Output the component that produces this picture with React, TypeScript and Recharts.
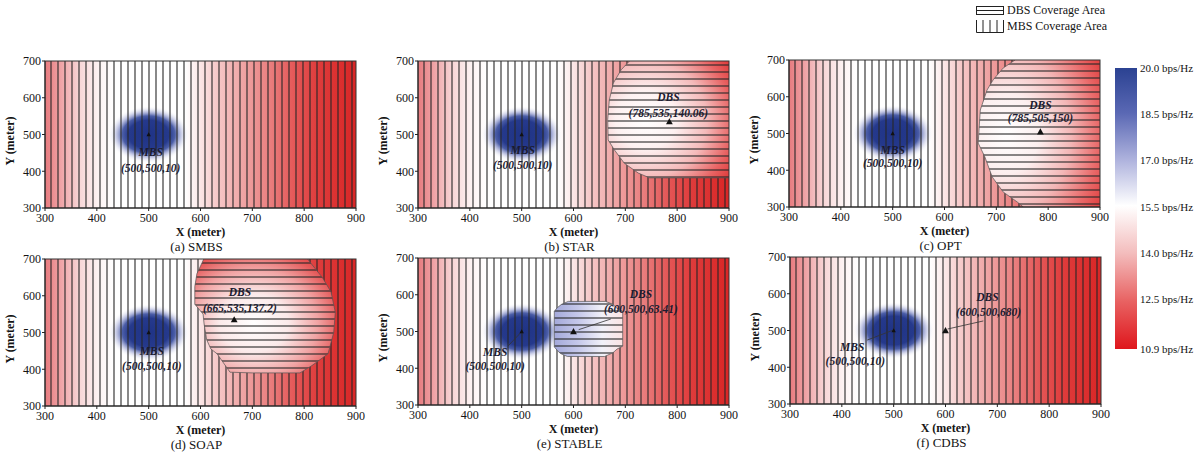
import React from "react";
import {
  ComposedChart,
  XAxis,
  YAxis,
  ReferenceArea,
  ReferenceLine,
  ReferenceDot,
  Scatter,
} from "recharts";

const X_TICKS = [300, 400, 500, 600, 700, 800, 900];
const Y_TICKS = [300, 400, 500, 600, 700];
const RATE_TICKS = [20.0, 18.5, 17.0, 15.5, 14.0, 12.5, 10.9];

const PANEL_KEYS = ["a", "b", "c", "d", "e", "f"];
const PANEL_TITLES = ["(a) SMBS", "(b) STAR", "(c) OPT", "(d) SOAP", "(e) STABLE", "(f) CDBS"];

// station positions (x, y, height) as printed in each panel
const MBS_SITES = [
  { x: 500, y: 500, h: 10 },
  { x: 500, y: 500, h: 10 },
  { x: 500, y: 500, h: 10 },
  { x: 500, y: 500, h: 10 },
  { x: 500, y: 500, h: 10 },
  { x: 500, y: 500, h: 10 },
];
const DBS_SITES = [
  null,
  { x: 785, y: 535, h: 140.06 },
  { x: 785, y: 505, h: 150 },
  { x: 665, y: 535, h: 137.2 },
  { x: 600, y: 500, h: 63.41 },
  { x: 600, y: 500, h: 680 },
];

// DBS coverage boundaries (meters)
const COVER_B = [
  [712, 712], [708, 700], [692, 676], [677, 640], [669, 594], [666, 540], [667, 485],
  [679, 458], [698, 422], [725, 395], [747, 382], [912, 382], [912, 712],
];
const COVER_C = [
  [740, 712], [736, 700], [713, 678], [694, 646], [682, 618], [669, 564], [665, 474],
  [678, 436], [692, 382], [713, 341], [740, 314], [752, 300], [756, 288], [912, 288], [912, 712],
];
const COVER_D = [
  [610, 712], [603, 690], [593, 660], [589, 625], [589, 577], [605, 550], [607, 523],
  [612, 480], [620, 455], [632, 442], [657, 392], [700, 390], [792, 390], [815, 410],
  [846, 442], [857, 500], [860, 555], [852, 610], [835, 650], [812, 690], [800, 712],
];
const COVER_E = [
  [590, 582], [662, 582], [676, 574], [684, 563], [695, 555], [695, 460], [684, 452],
  [676, 442], [660, 432], [588, 432], [575, 440], [569, 448], [563, 458], [563, 555],
  [569, 565], [577, 574],
];
const DBS_COVERAGE = [null, COVER_B, COVER_C, COVER_D, COVER_E, null];

// layout
const SERIF = "'Liberation Serif', 'DejaVu Serif', serif";
const PLOT_W = 311;
const PLOT_H = 147;
const RIGHT_PAD = 14;
const CHART_W = 45 + PLOT_W + RIGHT_PAD;
const CHART_H = 10 + PLOT_H + 30;
const PANEL_POS = [
  { left: 45, top: 61 },
  { left: 418, top: 61 },
  { left: 789, top: 60 },
  { left: 45, top: 259 },
  { left: 418, top: 258 },
  { left: 790, top: 257 },
];
const BLOB_R = 78;

const LABEL_LAYOUT: any[] = [
  { mbsName: [504, 452], mbsCoord: [504, 410] },
  { mbsName: [502, 458], mbsCoord: [502, 417], dbsName: [783, 602], dbsCoord: [783, 558] },
  { mbsName: [500, 455], mbsCoord: [500, 420], dbsName: [785, 577], dbsCoord: [785, 542] },
  { mbsName: [506, 450], mbsCoord: [506, 410], dbsName: [676, 611], dbsCoord: [676, 568] },
  {
    mbsName: [449, 445], mbsCoord: [449, 405], dbsName: [730, 601], dbsCoord: [730, 560],
    mbsLeader: [[474, 461], [501, 501]], dbsLeader: [[672, 534], [610, 505]],
  },
  {
    mbsName: [420, 455], mbsCoord: [426, 417], dbsName: [681, 591], dbsCoord: [683, 550],
    mbsLeader: [[449, 474], [499, 501]], dbsLeader: [[673, 526], [604, 504]],
  },
];

// fill of the DBS coverage region, per panel
const DBS_FILLS: any[] = [
  null,
  { type: "radial", cx: 0.3, cy: 0.52, r: 0.8, stops: [[0, "#ffffff"], [0.3, "#fdf1f1"], [0.6, "#f4baba"], [0.85, "#e86464"], [1, "#e03c3c"]] },
  { type: "radial", cx: 0.22, cy: 0.5, r: 0.85, stops: [[0, "#ffffff"], [0.3, "#fcefef"], [0.6, "#f3b6b6"], [0.85, "#e96a6a"], [1, "#e24444"]] },
  { type: "radial", cx: 0.42, cy: 0.58, r: 0.7, stops: [[0, "#ffffff"], [0.35, "#fbeaea"], [0.65, "#f1a4a4"], [0.88, "#e55a5a"], [1, "#e04040"]] },
  { type: "linear", stops: [[0, "#a4a9db"], [0.35, "#c5c8ea"], [0.7, "#f1f1f9"], [1, "#fbe4e4"]] },
  null,
];

const BG_STOPS: [number, string][] = [
  [0, "#e77a7e"], [0.05, "#efa2a5"], [0.11, "#f7d5d6"], [0.17, "#fdf2f2"], [0.22, "#ffffff"],
  [0.45, "#ffffff"], [0.5, "#fbe6e6"], [0.55, "#f6caca"], [0.63, "#f0a7a7"], [0.72, "#ea8080"],
  [0.8, "#e45858"], [0.88, "#df3b3b"], [1, "#d92626"],
];

const RATE_STOPS: [number, string][] = [
  [0, "#2b4292"], [0.16, "#5a68b4"], [0.33, "#b0b4de"], [0.49, "#ffffff"],
  [0.66, "#f3bcbc"], [0.83, "#e86262"], [1, "#df161c"],
];

const tickStyle = { fill: "#141414", fontSize: 12, fontFamily: SERIF };
const labelStyle: any = {
  fill: "#1b1b30",
  fontSize: 11.5,
  fontFamily: SERIF,
  fontStyle: "italic",
  fontWeight: "bold",
  textAnchor: "middle",
  dominantBaseline: "central",
};

function polyPath(pts: number[][], x: number, y: number, w: number, h: number) {
  const xs = pts.map((p) => p[0]);
  const ys = pts.map((p) => p[1]);
  const minX = Math.min(...xs), maxX = Math.max(...xs);
  const minY = Math.min(...ys), maxY = Math.max(...ys);
  return (
    pts
      .map(([mx, my], i) => {
        const px = x + ((mx - minX) / (maxX - minX)) * w;
        const py = y + ((maxY - my) / (maxY - minY)) * h;
        return `${i ? "L" : "M"}${px.toFixed(1)},${py.toFixed(1)}`;
      })
      .join("") + "Z"
  );
}

function Triangle(props: any) {
  const { cx, cy, payload } = props;
  const s = payload && payload.kind === "dbs" ? 3.4 : 2.2;
  return (
    <polygon
      points={`${cx},${cy - s} ${cx - s},${cy + s * 0.8} ${cx + s},${cy + s * 0.8}`}
      fill="#111"
    />
  );
}

function Panel({ idx }: { idx: number }) {
  const id = PANEL_KEYS[idx];
  const pos = PANEL_POS[idx];
  const mbs = MBS_SITES[idx];
  const dbs = DBS_SITES[idx];
  const cover = DBS_COVERAGE[idx];
  const lab = LABEL_LAYOUT[idx];
  const dfill = DBS_FILLS[idx];
  const stations: any[] = [{ x: mbs.x, y: mbs.y, kind: "mbs" }];
  if (dbs) stations.push({ x: dbs.x, y: dbs.y, kind: "dbs" });

  const cxs = cover ? cover.map((p) => p[0]) : [];
  const cys = cover ? cover.map((p) => p[1]) : [];

  const textDot = (pt: number[], text: string, key: string) => (
    <ReferenceDot
      key={key}
      x={pt[0]}
      y={pt[1]}
      r={0}
      ifOverflow="visible"
      shape={(p: any) => (
        <text x={p.cx} y={p.cy} {...labelStyle}>
          {text}
        </text>
      )}
    />
  );

  return (
    <div
      style={{
        position: "absolute",
        left: pos.left - 45,
        top: pos.top - 10,
        width: CHART_W,
        height: CHART_H + 20,
      }}
    >
      <ComposedChart width={CHART_W} height={CHART_H} margin={{ top: 10, right: RIGHT_PAD, bottom: 0, left: 13 }}>
        <defs>
          <clipPath id={`clip-${id}`}>
            <rect x={45} y={10} width={PLOT_W} height={PLOT_H} />
          </clipPath>
          <linearGradient id={`bg-${id}`} x1="0" y1="0" x2="1" y2="0">
            {BG_STOPS.map(([o, c]) => (
              <stop key={o} offset={o} stopColor={c} />
            ))}
          </linearGradient>
          <radialGradient id={`blob-${id}`} cx="0.5" cy="0.5" r="0.5">
            <stop offset={0} stopColor="#1f3386" />
            <stop offset={0.5} stopColor="#25398c" />
            <stop offset={0.65} stopColor="#3c50a0" stopOpacity={0.92} />
            <stop offset={0.8} stopColor="#8a93cc" stopOpacity={0.5} />
            <stop offset={1} stopColor="#ffffff" stopOpacity={0} />
          </radialGradient>
          {dfill && dfill.type === "radial" && (
            <radialGradient id={`dfill-${id}`} cx={dfill.cx} cy={dfill.cy} r={dfill.r}>
              {dfill.stops.map(([o, c]: any) => (
                <stop key={o} offset={o} stopColor={c} />
              ))}
            </radialGradient>
          )}
          {dfill && dfill.type === "linear" && (
            <linearGradient id={`dfill-${id}`} x1="0" y1="0" x2="1" y2="0">
              {dfill.stops.map(([o, c]: any) => (
                <stop key={o} offset={o} stopColor={c} />
              ))}
            </linearGradient>
          )}
          <pattern id={`vh-${id}`} patternUnits="userSpaceOnUse" x={45} y={0} width={7} height={20}>
            <line x1={6} x2={6} y1={0} y2={20} stroke="#262626" strokeWidth={1.1} />
          </pattern>
          <pattern id={`hh-${id}`} patternUnits="userSpaceOnUse" x={0} y={10} width={20} height={7}>
            <line x1={0} x2={20} y1={4} y2={4} stroke="#262626" strokeWidth={1.1} />
          </pattern>
        </defs>

        <XAxis
          type="number"
          dataKey="x"
          domain={[300, 900]}
          ticks={X_TICKS}
          interval={0}
          allowDataOverflow
          height={30}
          tickSize={3}
          tickMargin={2}
          axisLine={{ stroke: "#222" }}
          tickLine={{ stroke: "#222" }}
          tick={tickStyle}
        />
        <YAxis
          type="number"
          dataKey="y"
          domain={[300, 700]}
          ticks={Y_TICKS}
          interval={0}
          allowDataOverflow
          width={32}
          tickSize={3}
          tickMargin={1}
          axisLine={{ stroke: "#222" }}
          tickLine={{ stroke: "#222" }}
          tick={tickStyle}
        />

        <ReferenceArea
          x1={300}
          x2={900}
          y1={300}
          y2={700}
          ifOverflow="visible"
          shape={(p: any) => (
            <rect x={p.x} y={p.y} width={p.width} height={p.height} fill={`url(#bg-${id})`} />
          )}
        />
        <ReferenceArea
          x1={mbs.x - BLOB_R}
          x2={mbs.x + BLOB_R}
          y1={mbs.y - BLOB_R}
          y2={mbs.y + BLOB_R}
          ifOverflow="visible"
          shape={(p: any) => (
            <ellipse
              cx={p.x + p.width / 2}
              cy={p.y + p.height / 2}
              rx={p.width / 2}
              ry={p.height / 2}
              fill={`url(#blob-${id})`}
              clipPath={`url(#clip-${id})`}
            />
          )}
        />
        <ReferenceArea
          x1={300}
          x2={900}
          y1={300}
          y2={700}
          ifOverflow="visible"
          shape={(p: any) => (
            <rect x={p.x} y={p.y} width={p.width} height={p.height} fill={`url(#vh-${id})`} />
          )}
        />
        {cover && (
          <ReferenceArea
            x1={Math.min(...cxs)}
            x2={Math.max(...cxs)}
            y1={Math.min(...cys)}
            y2={Math.max(...cys)}
            ifOverflow="visible"
            shape={(p: any) => {
              const d = polyPath(cover, p.x, p.y, p.width, p.height);
              return (
                <g clipPath={`url(#clip-${id})`}>
                  <path d={d} fill={`url(#dfill-${id})`} />
                  <path d={d} fill={`url(#hh-${id})`} stroke="#555" strokeWidth={0.7} />
                </g>
              );
            }}
          />
        )}
        <ReferenceArea
          x1={300}
          x2={900}
          y1={300}
          y2={700}
          ifOverflow="visible"
          shape={(p: any) => (
            <rect x={p.x} y={p.y} width={p.width} height={p.height} fill="none" stroke="#333" strokeWidth={1} />
          )}
        />

        {lab.mbsLeader && (
          <ReferenceLine
            segment={[
              { x: lab.mbsLeader[0][0], y: lab.mbsLeader[0][1] },
              { x: lab.mbsLeader[1][0], y: lab.mbsLeader[1][1] },
            ]}
            stroke="#333"
            strokeWidth={0.8}
            ifOverflow="visible"
          />
        )}
        {lab.dbsLeader && (
          <ReferenceLine
            segment={[
              { x: lab.dbsLeader[0][0], y: lab.dbsLeader[0][1] },
              { x: lab.dbsLeader[1][0], y: lab.dbsLeader[1][1] },
            ]}
            stroke="#333"
            strokeWidth={0.8}
            ifOverflow="visible"
          />
        )}

        {textDot(lab.mbsName, "MBS", "mn")}
        {textDot(lab.mbsCoord, `(${mbs.x},${mbs.y},${mbs.h})`, "mc")}
        {dbs && textDot(lab.dbsName, "DBS", "dn")}
        {dbs && textDot(lab.dbsCoord, `(${dbs.x},${dbs.y},${dbs.h})`, "dc")}

        <Scatter data={stations} dataKey="y" shape={Triangle} isAnimationActive={false} />
      </ComposedChart>

      <div
        style={{
          position: "absolute",
          left: 10,
          top: 10 + PLOT_H / 2 + 6,
          transform: "translate(-50%, -50%) rotate(-90deg)",
          fontFamily: SERIF,
          fontWeight: "bold",
          fontSize: 12,
          color: "#141414",
          whiteSpace: "nowrap",
        }}
      >
        Y (meter)
      </div>
      <div
        style={{
          position: "absolute",
          left: 45 + PLOT_W / 2,
          top: 10 + PLOT_H + 24,
          transform: "translate(-50%, -50%)",
          fontFamily: SERIF,
          fontWeight: "bold",
          fontSize: 12,
          lineHeight: "12px",
          color: "#141414",
          whiteSpace: "nowrap",
        }}
      >
        X (meter)
      </div>
      <div
        style={{
          position: "absolute",
          left: 45 + PLOT_W / 2 - 4,
          top: 10 + PLOT_H + 38,
          transform: "translate(-50%, -50%)",
          fontFamily: SERIF,
          fontSize: 13,
          lineHeight: "13px",
          color: "#141414",
          whiteSpace: "nowrap",
        }}
      >
        {PANEL_TITLES[idx]}
      </div>
    </div>
  );
}

const RATE_POINTS = RATE_TICKS.map((v) => ({ x: 0.5, v }));

function RateTick(props: any) {
  const { x, y, payload } = props;
  return (
    <text x={x} y={y} dy="0.35em" textAnchor="start" fill="#141414" fontSize={11} fontFamily={SERIF}>
      {`${Number(payload.value).toFixed(1)} bps/Hz`}
    </text>
  );
}

function ColorBar() {
  return (
    <div style={{ position: "absolute", left: 1105, top: 58, width: 97, height: 301, overflow: "visible" }}>
      <ComposedChart
        width={97}
        height={301}
        margin={{ top: 10, right: 0, bottom: 10, left: 10 }}
        style={{ overflow: "visible" }}
      >
        <defs>
          <linearGradient id="rate-bar" x1="0" y1="0" x2="0" y2="1">
            {RATE_STOPS.map(([o, c]) => (
              <stop key={o} offset={o} stopColor={c} />
            ))}
          </linearGradient>
        </defs>
        <XAxis type="number" dataKey="x" domain={[0, 1]} hide />
        <YAxis
          type="number"
          dataKey="v"
          orientation="right"
          domain={[10.9, 20]}
          ticks={RATE_TICKS}
          interval={0}
          width={65}
          axisLine={false}
          tickLine={false}
          tickSize={0}
          tickMargin={3}
          tick={<RateTick />}
        />
        <ReferenceArea
          x1={0}
          x2={1}
          y1={10.9}
          y2={20}
          ifOverflow="visible"
          shape={(p: any) => (
            <rect x={p.x} y={p.y} width={p.width} height={p.height} fill="url(#rate-bar)" />
          )}
        />
        <Scatter data={RATE_POINTS} dataKey="v" shape={() => <g />} isAnimationActive={false} />
      </ComposedChart>
    </div>
  );
}

function CoverageLegend() {
  const text = { position: "absolute" as const, left: 1007, fontFamily: SERIF, fontSize: 12, color: "#141414", whiteSpace: "nowrap" as const };
  return (
    <>
      <svg style={{ position: "absolute", left: 0, top: 0 }} width={1202} height={40}>
        <g stroke="#222" strokeWidth={1}>
          <rect x={976.5} y={6.5} width={27} height={8} fill="none" />
          <line x1={976.5} x2={1003.5} y1={10.5} y2={10.5} />
          <line x1={976.5} x2={976.5} y1={20} y2={32.5} />
          <line x1={983} x2={983} y1={20} y2={32.5} />
          <line x1={990} x2={990} y1={20} y2={32.5} />
          <line x1={997} x2={997} y1={20} y2={32.5} />
          <line x1={1003.5} x2={1003.5} y1={20} y2={32.5} />
          <line x1={976.5} x2={1003.5} y1={32.5} y2={32.5} />
        </g>
      </svg>
      <div style={{ ...text, top: 3 }}>DBS Coverage Area</div>
      <div style={{ ...text, top: 19 }}>MBS Coverage Area</div>
    </>
  );
}

export default function App() {
  return (
    <div
      style={{
        position: "absolute",
        left: 0,
        top: 0,
        width: 1202,
        height: 457,
        background: "#ffffff",
        overflow: "hidden",
      }}
    >
      {PANEL_KEYS.map((k, i) => (
        <Panel key={k} idx={i} />
      ))}
      <ColorBar />
      <CoverageLegend />
    </div>
  );
}
